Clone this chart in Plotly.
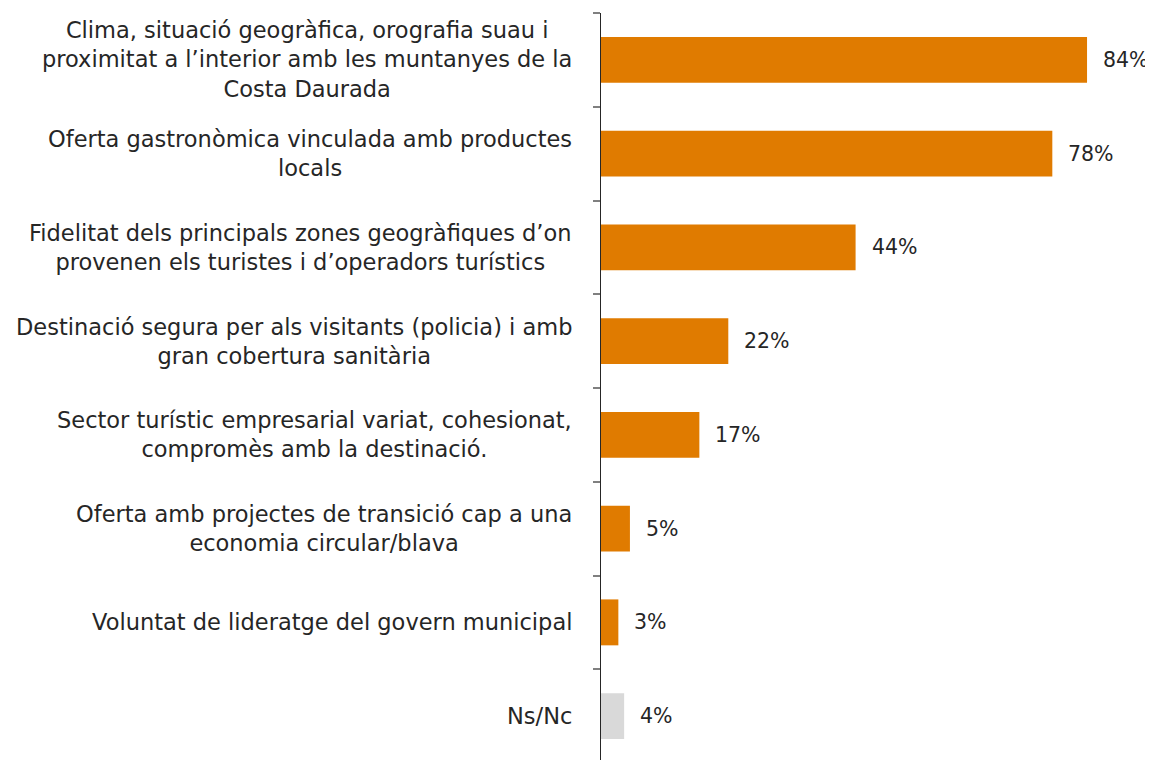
import plotly.graph_objects as go

categories = [
    "Clima, situació geogràfica, orografia suau i<br>proximitat a l’interior amb les muntanyes de la<br>Costa Daurada",
    "Oferta gastronòmica vinculada amb productes<br>locals",
    "Fidelitat dels principals zones geogràfiques d’on<br>provenen els turistes i d’operadors turístics",
    "Destinació segura per als visitants (policia) i amb<br>gran cobertura sanitària",
    "Sector turístic empresarial variat, cohesionat,<br>compromès amb la destinació.",
    "Oferta amb projectes de transició cap a una<br>economia circular/blava",
    "Voluntat de lideratge del govern municipal",
    "Ns/Nc",
]
values = [84, 78, 44, 22, 17, 5, 3, 4]
value_labels = ["84%", "78%", "44%", "22%", "17%", "5%", "3%", "4%"]

ORANGE = "#E07B00"
GREY = "#D9D9D9"
colors = [GREY if c == "Ns/Nc" else ORANGE for c in categories]
ids = [f"c{i}" for i in range(len(categories))]

FONT = "DejaVu Sans"
TXT = "#262626"

fig = go.Figure()
fig.add_trace(go.Bar(
    y=ids, x=values, orientation="h",
    marker=dict(color=colors, line=dict(width=0)),
    width=0.49, hoverinfo="skip",
))

annotations = []
for i, (c, v, lab) in enumerate(zip(categories, values, value_labels)):
    annotations.append(dict(
        x=0, xref="paper", y=ids[i], yref="y",
        text=c, showarrow=False, xanchor="right", yanchor="middle",
        align="center", xshift=-27,
        font=dict(family=FONT, size=22.5, color=TXT),
    ))
    annotations.append(dict(
        x=v, xref="x", y=ids[i], yref="y",
        text=lab, showarrow=False, xanchor="left", yanchor="middle",
        xshift=14,
        font=dict(family=FONT, size=20.5, color=TXT),
    ))

fig.update_layout(
    width=1145, height=755,
    margin=dict(l=593, r=0, t=5, b=0),
    plot_bgcolor="white", paper_bgcolor="white",
    showlegend=False,
    annotations=annotations,
    bargap=0.51,
)
fig.update_xaxes(range=[0, 95.4], visible=False, fixedrange=True)
fig.update_yaxes(
    type="category", autorange="reversed",
    showticklabels=False,
    showline=True, linecolor="#262626", linewidth=1,
    ticks="outside", tickson="boundaries", ticklen=7,
    tickcolor="#808080", tickwidth=1.5,
    showgrid=False, zeroline=False, fixedrange=True,
)

fig.write_html("out.html")
